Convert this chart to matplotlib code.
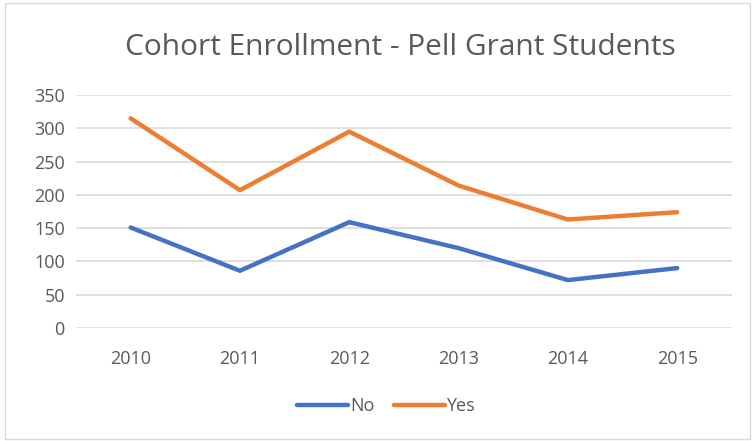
import matplotlib.pyplot as plt
from matplotlib.patches import Rectangle

# ---- data ----
years = ["2010", "2011", "2012", "2013", "2014", "2015"]
no_vals = [151, 86, 159, 120, 72, 90]
yes_vals = [315, 207, 295, 214, 163, 174]
y_ticks = [0, 50, 100, 150, 200, 250, 300, 350]

plt.rcParams['font.family'] = ['Open Sans', 'DejaVu Sans']
text_col = '#595959'

fig = plt.figure(figsize=(7.56, 4.41), dpi=100)
ax = fig.add_axes([0.1005, 0.2562, 0.8675, 0.5284])

x = list(range(len(years)))
ax.plot(x, no_vals, color='#4472C4', lw=3.2, label='No', solid_capstyle='round')
ax.plot(x, yes_vals, color='#ED7D31', lw=3.2, label='Yes', solid_capstyle='round')

ax.set_xlim(-0.5, len(years) - 0.5)
ax.set_ylim(0, 350)
ax.set_yticks(y_ticks)
ax.set_xticks(x)
ax.set_xticklabels(years)
ax.grid(axis='y', color='#D9D9D9', lw=1.2)
ax.set_axisbelow(True)
for s in ax.spines.values():
    s.set_visible(False)
ax.tick_params(length=0, labelsize=13, colors=text_col, pad=8)
ax.tick_params(axis='x', pad=16)

fig.text(0.529, 0.893, "Cohort Enrollment - Pell Grant Students", ha='center', va='center',
         fontsize=21.5, color=text_col)

ax.legend(loc='center', bbox_to_anchor=(0.473, -0.335), ncol=2, frameon=False,
          fontsize=13, labelcolor=text_col, handlelength=2.8, handletextpad=0.1,
          columnspacing=1.1)

# chart border
fig.patches.append(Rectangle((5 / 756, 2 / 441), 745 / 756, 436 / 441, transform=fig.transFigure,
                             fill=False, edgecolor='#D9D9D9', lw=1))

fig.savefig('out.png', dpi=100)
